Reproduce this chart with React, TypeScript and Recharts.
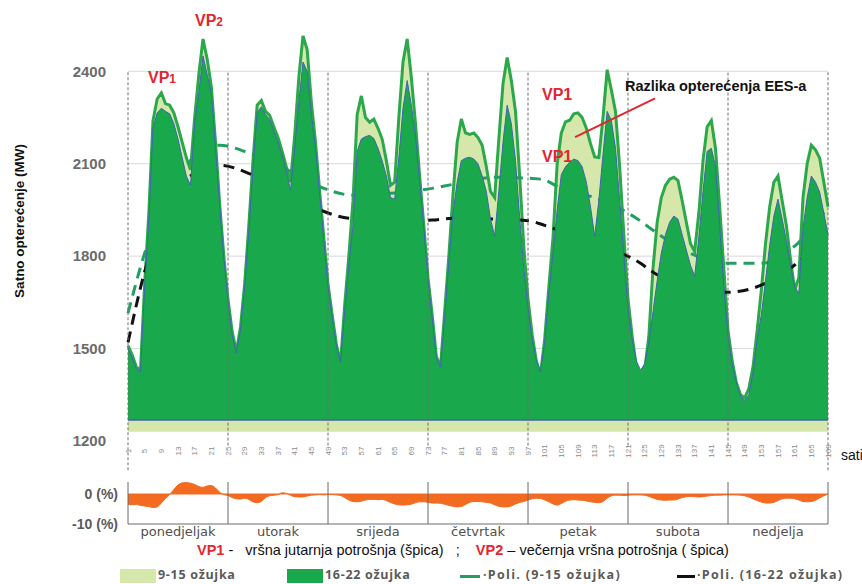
import React from 'react';
import { ComposedChart, Area, XAxis, YAxis, CartesianGrid, ReferenceLine } from 'recharts';

// ---------- DATA ----------
// hourly load, MW — week 9-15 ožujka (light series), 24 values per day, plus closing value
const load915: number[] = [
  1510,1480,1440,1430,1710,1940,2240,2310,2330,2295,2290,2265,2220,2170,2120,2080,2250,2390,2505,2440,2350,2170,1970,1800,
  1660,1555,1490,1570,1710,1900,2110,2290,2305,2270,2257,2220,2185,2140,2090,2040,2190,2380,2515,2470,2300,2170,2010,1860,
  1710,1610,1515,1450,1640,1800,1980,2260,2320,2250,2235,2245,2215,2180,2110,2030,2040,2250,2430,2505,2380,2230,2060,1900,
  1730,1610,1475,1440,1620,1800,2000,2170,2245,2200,2195,2200,2185,2160,2090,2010,1990,2180,2360,2445,2370,2270,2060,1830,
  1660,1545,1460,1415,1530,1700,1860,2100,2200,2236,2241,2262,2265,2250,2215,2165,2122,2120,2250,2405,2340,2270,2090,1870,
  1660,1540,1440,1395,1430,1540,1760,1910,1990,2030,2050,2056,2045,1980,1910,1840,1815,1940,2110,2220,2240,2150,1960,1760,
  1560,1460,1390,1350,1340,1370,1440,1560,1690,1840,1960,2040,2060,1980,1900,1790,1690,1730,1990,2100,2160,2145,2118,2040,
  1960,
];
// hourly load, MW — week 16-22 ožujka (dark series)
const load1622: number[] = [
  1500,1470,1435,1425,1700,1920,2215,2265,2280,2270,2262,2230,2180,2120,2060,2030,2230,2330,2450,2390,2330,2150,1960,1790,
  1650,1545,1485,1560,1700,1880,2085,2265,2285,2260,2243,2205,2170,2125,2075,2015,2150,2300,2430,2400,2260,2150,2000,1850,
  1700,1600,1510,1456,1620,1770,1900,2140,2180,2188,2192,2182,2150,2110,2060,1990,1985,2120,2280,2370,2290,2190,2040,1890,
  1720,1600,1470,1440,1600,1780,1940,2040,2110,2118,2121,2115,2100,2060,2010,1920,1865,2010,2170,2290,2230,2110,1925,1760,
  1630,1530,1460,1424,1520,1680,1810,1950,2065,2090,2105,2115,2110,2090,2040,1960,1865,1980,2130,2270,2240,2150,1980,1800,
  1630,1530,1460,1430,1450,1520,1620,1720,1810,1870,1910,1930,1920,1870,1820,1770,1735,1860,2010,2140,2150,2090,1900,1700,
  1540,1450,1390,1345,1330,1350,1420,1530,1610,1720,1835,1930,1985,1920,1850,1770,1700,1680,1890,1990,2060,2040,2008,1940,
  1870,
];
// hourly difference, %
const diffPct: number[] = [
  -3.5,-3.6,-3.5,-3.8,-4.0,-4.2,-4.5,-4.3,-3.0,-1.5,-0.2,1.5,3.0,3.7,3.8,3.6,3.2,2.5,2.2,2.7,2.8,2.0,0.6,-0.2,
  -0.5,-1.2,-1.6,-1.7,-1.4,-1.8,-2.6,-2.9,-2.5,-1.2,-0.6,-0.4,-0.2,0.4,0.2,-0.4,-0.9,-1.0,-1.0,-0.7,-0.4,-0.3,-0.2,-0.3,
  -0.2,-0.2,-0.3,-0.5,-1.2,-2.0,-2.5,-2.6,-2.4,-2.0,-1.8,-1.8,-1.9,-1.8,-2.2,-2.8,-3.3,-3.6,-3.7,-3.6,-3.4,-2.9,-2.6,-2.6,
  -2.8,-3.0,-3.0,-3.1,-3.4,-3.8,-4.1,-4.3,-4.2,-3.5,-2.8,-2.5,-2.5,-2.6,-2.8,-3.0,-3.6,-4.1,-4.3,-4.3,-4.0,-3.3,-2.8,-2.5,
  -2.0,-1.6,-1.4,-1.5,-2.0,-2.6,-3.3,-3.7,-3.2,-2.4,-2.0,-1.9,-2.0,-2.1,-2.3,-2.6,-2.8,-2.9,-2.5,-1.4,-0.6,-0.4,-0.4,-0.5,
  -0.4,-0.3,-0.3,-0.3,-0.4,-0.8,-1.3,-1.8,-2.0,-2.1,-2.0,-2.0,-1.7,-1.2,-0.9,-0.8,-0.9,-1.0,-0.9,-0.7,-0.5,-0.4,-0.4,-0.3,
  -0.3,-0.3,-0.3,-0.4,-0.6,-1.0,-1.6,-2.2,-2.7,-3.0,-3.0,-2.8,-2.2,-1.6,-1.4,-1.4,-1.6,-2.0,-2.5,-2.6,-2.5,-2.1,-1.3,-0.6,
  0,
];
// polynomial trend lines (sampled)
const trendGreenHours = [1,5,10,16,23,30,40,48,55,65,74,79,89,100,105,114,123,126,135,145,153,162,169];
const trendGreen = [1615,1810,1990,2110,2160,2135,2075,2020,1998,2005,2020,2033,2056,2050,2020,1985,1923,1894,1815,1777,1777,1845,1959];
const trendBlackHours = [1,5,10,16,23,31,40,49,54,64,74,79,89,97,101,110,124,127,135,145,151,160,169];
const trendBlack = [1520,1750,1950,2060,2095,2063,2000,1940,1923,1915,1917,1923,1920,1915,1900,1850,1777,1748,1705,1683,1696,1761,1868];

const hours = load915.map((_, i) => i + 1);
const hourTicks = hours.filter((h) => (h - 1) % 4 === 0);
const dayNames = ['ponedjeljak', 'utorak', 'srijeda', 'četvrtak', 'petak', 'subota', 'nedjelja'];
const dayBoundaries = [25, 49, 73, 97, 121, 145];
const dayCenters = [13, 37, 61, 85, 109, 133, 157];
const yTicks = [1200, 1500, 1800, 2100, 2400];
const diffTicks = [-10, 0];

const mainData = hours.map((h, i) => {
  const gi = trendGreenHours.indexOf(h);
  const bi = trendBlackHours.indexOf(h);
  return {
    h,
    a: load915[i],
    b: load1622[i],
    tg: gi >= 0 ? trendGreen[gi] : null,
    tb: bi >= 0 ? trendBlack[bi] : null,
  };
});
const diffData = hours.map((h, i) => ({ h, d: diffPct[i] }));

// ---------- STYLE ----------
const FONT = '"Liberation Sans", Arial, sans-serif';
const LIGHT_FILL = '#d5e7ab';
const LIGHT_STROKE = '#2aa84a';
const DARK_FILL = '#19a84b';
const DARK_STROKE = '#3d66b0';
const RED = '#e3262e';
const DARK_BASE = 1268;
const LIGHT_BASE = 1230;

const CHART_W = 862;
const CHART_H = 480;
const MAIN_MARGIN = { top: 22, right: 34, bottom: 19, left: 68 };
const Y_DOMAIN: [number, number] = [1200, 2560];

function HourTick(props: any) {
  const { x, y, payload } = props;
  return (
    <g transform={`translate(${x},${y + 7})`}>
      <text transform="rotate(-90)" textAnchor="middle" dominantBaseline="central" fontSize={8} fill="#8a8a8a" fontFamily={FONT}>
        {payload.value}
      </text>
    </g>
  );
}

const abs = (left: number, top: number, extra: React.CSSProperties = {}): React.CSSProperties => ({
  position: 'absolute', left, top, lineHeight: 1, whiteSpace: 'pre', fontFamily: FONT, ...extra,
});

const legendText: React.CSSProperties = { fontSize: 12.5, fontWeight: 700, color: '#5a5a5a', fontFamily: '"Open Sans", sans-serif', letterSpacing: 0.7 };
const legendTextWide: React.CSSProperties = { ...legendText, letterSpacing: 1.3 };

export default function App() {
  return (
    <div style={{ position: 'absolute', left: 0, top: 0, width: 862, height: 584, background: '#fff', overflow: 'hidden' }}>
      {/* bottom layer: grid, axes, 9-15 area, trend lines */}
      <div style={{ position: 'absolute', left: 0, top: 0 }}>
        <ComposedChart width={CHART_W} height={CHART_H} data={mainData} margin={MAIN_MARGIN}>
          <CartesianGrid vertical={false} horizontalValues={[1500, 1800, 2100, 2400]} stroke="#d9d9d9" />
          <XAxis dataKey="h" type="number" domain={[1, 169]} ticks={hourTicks} interval={0} axisLine={false} tickLine={false} tickSize={0} tickMargin={3} height={20} tick={<HourTick />} />
          <YAxis type="number" domain={Y_DOMAIN} ticks={yTicks} width={60} axisLine={false} tickLine={false} tickSize={0} tickMargin={22}
            tick={{ fontSize: 15, fontWeight: 700, fill: '#6b6b6b', fontFamily: FONT }} />
          <Area type="linear" dataKey="a" baseValue={LIGHT_BASE} fill={LIGHT_FILL} fillOpacity={1} stroke={LIGHT_STROKE} strokeWidth={3} isAnimationActive={false} />
          <Area type="monotone" dataKey="tg" connectNulls fill="none" fillOpacity={0} stroke="#22a060" strokeWidth={3} strokeDasharray="11 7" isAnimationActive={false} activeDot={false} />
          <Area type="monotone" dataKey="tb" connectNulls fill="none" fillOpacity={0} stroke="#111111" strokeWidth={3} strokeDasharray="11 7" isAnimationActive={false} activeDot={false} />
        </ComposedChart>
      </div>
      {/* top layer: 16-22 area, day separators, annotation pointer */}
      <div style={{ position: 'absolute', left: 0, top: 0 }}>
        <ComposedChart width={CHART_W} height={CHART_H} data={mainData} margin={MAIN_MARGIN}>
          <XAxis dataKey="h" type="number" domain={[1, 169]} ticks={hourTicks} axisLine={false} tickLine={false} tick={false} height={20} />
          <YAxis type="number" domain={Y_DOMAIN} ticks={yTicks} width={60} axisLine={false} tickLine={false} tick={false} />
          <Area type="linear" dataKey="b" baseValue={DARK_BASE} fill={DARK_FILL} fillOpacity={1} stroke={DARK_STROKE} strokeWidth={1} isAnimationActive={false} />
          <ReferenceLine segment={[{ x: 1, y: DARK_BASE }, { x: 169, y: DARK_BASE }]} stroke={DARK_STROKE} strokeWidth={1.5} ifOverflow="visible" />
          {dayBoundaries.map((h) => (
            <ReferenceLine key={h} segment={[{ x: h, y: 1185 }, { x: h, y: 2400 }]} stroke="#6f6f6f" strokeDasharray="3 2" ifOverflow="visible" />
          ))}
          <ReferenceLine segment={[{ x: 1, y: 1105 }, { x: 1, y: 2400 }]} stroke="#6f6f6f" strokeDasharray="3 2" ifOverflow="visible" />
          <ReferenceLine segment={[{ x: 169, y: 1105 }, { x: 169, y: 2400 }]} stroke="#6f6f6f" strokeDasharray="3 2" ifOverflow="visible" />
          <ReferenceLine segment={[{ x: 108.3, y: 2186 }, { x: 127.5, y: 2312 }]} stroke={RED} strokeWidth={2} ifOverflow="visible" />
        </ComposedChart>
      </div>

      <div style={{ position: 'absolute', left: 0, top: 470 }}>
        <ComposedChart width={862} height={80} data={diffData} margin={{ top: 12, right: 34, bottom: 6, left: 68 }}>
          <XAxis dataKey="h" type="number" domain={[1, 169]} ticks={dayCenters} interval={0} stroke="#6a6a6a" tickLine={false} tickSize={0} tickMargin={3} height={20}
            tickFormatter={(v: number) => dayNames[dayCenters.indexOf(v)]}
            tick={{ fontSize: 13, fill: '#4f4f4f', fontFamily: '"DejaVu Sans", sans-serif' }} />
          <YAxis type="number" domain={[-10, 4]} ticks={diffTicks} width={60} stroke="#6a6a6a" tickLine={false} tickSize={0} tickMargin={10}
            tickFormatter={(v: number) => `${v} (%)`}
            tick={{ fontSize: 14, fontWeight: 700, fill: '#5a5a5a', fontFamily: FONT }} />
          <ReferenceLine y={0} stroke="#f36a21" strokeWidth={1} />
          <Area type="monotone" dataKey="d" baseValue={0} fill="#f36a21" fillOpacity={1} stroke="#f36a21" strokeWidth={1} isAnimationActive={false} />
          {[...dayBoundaries, 169].map((h) => (
            <ReferenceLine key={h} x={h} stroke="#6a6a6a" strokeWidth={1} />
          ))}
        </ComposedChart>
      </div>

      {/* axis title and unit */}
      <div style={{ ...abs(20, 221), transform: 'translate(-50%,-50%) rotate(-90deg)', fontSize: 13.5, fontWeight: 700, color: '#111' }}>Satno opterećenje (MW)</div>
      <div style={abs(841, 448, { fontSize: 14, color: '#111' })}>sati</div>

      {/* annotations */}
      <div style={abs(148, 70, { fontSize: 16, fontWeight: 700, color: RED })}>VP<span style={{ fontSize: 12 }}>1</span></div>
      <div style={abs(195, 13, { fontSize: 16, fontWeight: 700, color: RED })}>VP<span style={{ fontSize: 12 }}>2</span></div>
      <div style={abs(542, 87, { fontSize: 16, fontWeight: 700, color: RED })}>VP1</div>
      <div style={abs(542, 149, { fontSize: 16, fontWeight: 700, color: RED })}>VP1</div>
      <div style={abs(625, 79, { fontSize: 14.5, fontWeight: 700, color: '#111' })}>Razlika opterećenja EES-a</div>

      {/* explanation line */}
      <div style={abs(197, 543, { fontSize: 14.5, color: '#111' })}>
        <span style={{ color: RED, fontWeight: 700 }}>VP1</span>{' -   vršna jutarnja potrošnja (špica)   ;    '}
        <span style={{ color: RED, fontWeight: 700 }}>VP2</span>{' – večernja vršna potrošnja ( špica)'}
      </div>

      {/* legend */}
      <div style={{ position: 'absolute', left: 120, top: 569, width: 36, height: 14, background: LIGHT_FILL }} />
      <div style={abs(158, 569, legendText)}>9-15 ožujka</div>
      <div style={{ position: 'absolute', left: 287, top: 569, width: 36, height: 14, background: DARK_FILL }} />
      <div style={abs(325, 569, legendText)}>16-22 ožujka</div>
      <div style={{ position: 'absolute', left: 460, top: 575, width: 20, height: 3, background: '#22a060' }} />
      <div style={abs(483, 569, legendTextWide)}>·Poli. (9-15 ožujka)</div>
      <div style={{ position: 'absolute', left: 677, top: 575, width: 18, height: 3, background: '#111' }} />
      <div style={abs(697, 569, legendTextWide)}>·Poli. (16-22 ožujka)</div>
    </div>
  );
}
